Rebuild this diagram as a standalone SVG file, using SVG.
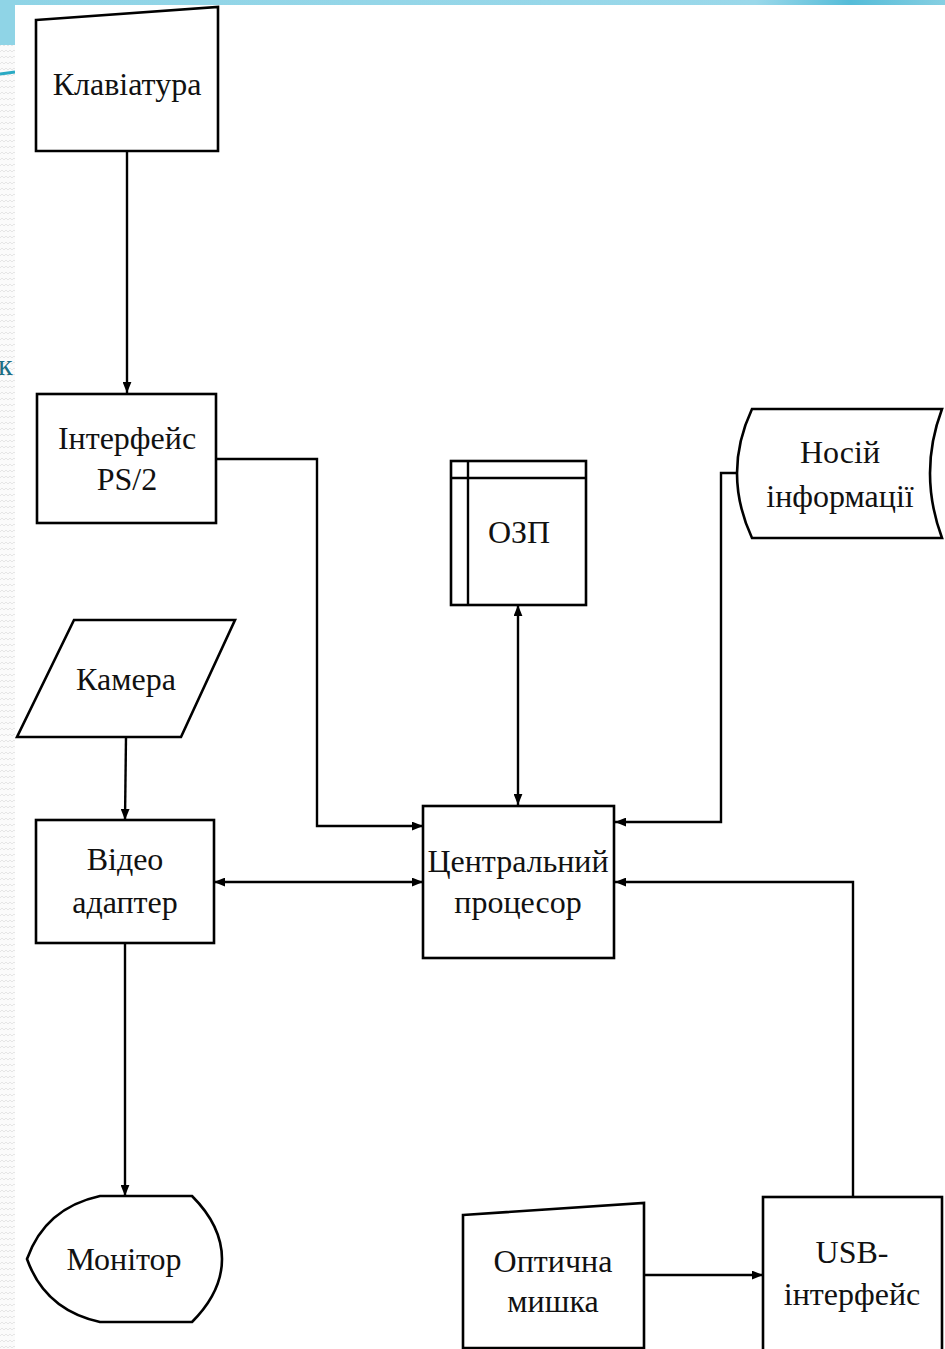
<svg xmlns="http://www.w3.org/2000/svg" width="945" height="1349" viewBox="0 0 945 1349">
<defs>
<linearGradient id="band" x1="0" y1="0" x2="1" y2="0">
<stop offset="0" stop-color="#8fd4e6"/>
<stop offset="0.8" stop-color="#9ad8ea"/>
<stop offset="0.9" stop-color="#55bcd8"/>
<stop offset="1" stop-color="#86cfe2"/>
</linearGradient>
<pattern id="zig" width="8" height="6" patternUnits="userSpaceOnUse">
<rect width="8" height="6" fill="#fbfbfb"/>
<path d="M0 4 L2 2 L4 4 L6 2 L8 4" fill="none" stroke="#e6e6e6" stroke-width="1"/>
</pattern>
<marker id="arr" viewBox="0 0 10 8" refX="10" refY="4" markerWidth="11" markerHeight="9" markerUnits="userSpaceOnUse" orient="auto-start-reverse">
<path d="M0 0 L10 4 L0 8 Z" fill="#000"/>
</marker>
<style>
.shape{fill:#fff;stroke:#000;stroke-width:2.6}
.line{fill:none;stroke:#000;stroke-width:2.4}
.t{font-family:"Liberation Serif","Times New Roman",serif;font-size:32px;fill:#111;text-anchor:middle}
</style>
</defs>
<g id="background">
<rect x="0" y="0" width="945" height="1349" fill="url(#zig)"/>
<rect x="0" y="0" width="945" height="5" fill="url(#band)"/>
<rect x="0" y="0" width="15" height="45" fill="#8fd4e6"/>
<path d="M0 74 L15 72" stroke="#2aaac4" stroke-width="3"/>
<rect x="15" y="5" width="930" height="1344" fill="#fff"/>
<text x="-2" y="375" font-family="Liberation Serif,serif" font-size="30" fill="#1c6e84">к</text>
</g>
<g id="connectors">
<path class="line" d="M127 151 L127 393" marker-end="url(#arr)"/>
<path class="line" d="M216 459 L317 459 L317 826 L423 826" marker-end="url(#arr)"/>
<path class="line" d="M518 605 L518 805" marker-start="url(#arr)" marker-end="url(#arr)"/>
<path class="line" d="M738 473 L721 473 L721 822 L615 822" marker-end="url(#arr)"/>
<path class="line" d="M126 737 L125 820" marker-end="url(#arr)"/>
<path class="line" d="M214 882 L423 882" marker-start="url(#arr)" marker-end="url(#arr)"/>
<path class="line" d="M125 943 L125 1196" marker-end="url(#arr)"/>
<path class="line" d="M644 1275 L763 1275" marker-end="url(#arr)"/>
<path class="line" d="M853 1197 L853 882 L615 882" marker-end="url(#arr)"/>
</g>
<g id="keyboard">
<path class="shape" d="M36 20 L218 7 L218 151 L36 151 Z"/>
<text class="t" x="127" y="95">Клавіатура</text>
</g>
<g id="ps2">
<rect class="shape" x="37" y="394" width="179" height="129"/>
<text class="t" x="127" y="449">Інтерфейс</text>
<text class="t" x="127" y="490">PS/2</text>
</g>
<g id="ram">
<rect class="shape" x="451" y="461" width="135" height="144"/>
<path class="line" d="M468 461 L468 605 M451 478 L586 478" stroke-width="2.6"/>
<text class="t" x="519" y="543">ОЗП</text>
</g>
<g id="storage">
<path class="shape" d="M752 409 L942 409 Q918 473 942 538 L752 538 Q722 473 752 409 Z"/>
<text class="t" x="840" y="463">Носій</text>
<text class="t" x="840" y="507">інформації</text>
</g>
<g id="camera">
<path class="shape" d="M74 620 L235 620 L181 737 L17 737 Z"/>
<text class="t" x="126" y="690">Камера</text>
</g>
<g id="video">
<rect class="shape" x="36" y="820" width="178" height="123"/>
<text class="t" x="125" y="870">Відео</text>
<text class="t" x="125" y="913">адаптер</text>
</g>
<g id="cpu">
<rect class="shape" x="423" y="806" width="191" height="152"/>
<text class="t" x="518" y="872">Центральний</text>
<text class="t" x="518" y="913">процесор</text>
</g>
<g id="monitor">
<path class="shape" d="M100 1196 L192 1196 Q222 1226 222 1259 Q222 1292 192 1322 L100 1322 Q45 1310 27 1259 Q45 1208 100 1196 Z"/>
<text class="t" x="124" y="1270">Монітор</text>
</g>
<g id="mouse">
<path class="shape" d="M463 1215 L644 1203 L644 1348 L463 1348 Z"/>
<text class="t" x="553" y="1272">Оптична</text>
<text class="t" x="553" y="1312">мишка</text>
</g>
<g id="usb">
<rect class="shape" x="763" y="1197" width="179" height="160"/>
<text class="t" x="852" y="1263">USB-</text>
<text class="t" x="852" y="1305">інтерфейс</text>
</g>
</svg>
